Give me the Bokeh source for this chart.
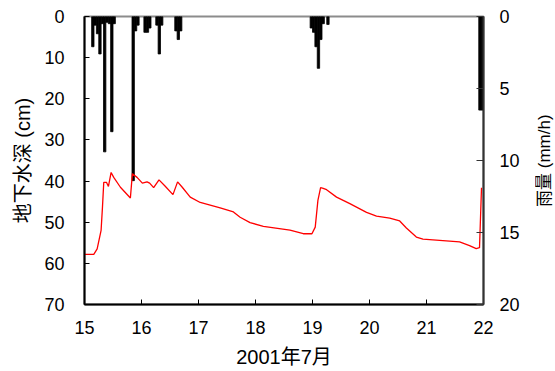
from bokeh.plotting import figure
from bokeh.models import Range1d, LinearAxis, FixedTicker, ColumnDataSource, Div
from bokeh.layouts import row
from bokeh.embed import file_html
from bokeh.resources import INLINE

# Groundwater depth (cm) vs day of July 2001
gw_day = [15.0, 15.163, 15.222, 15.291, 15.315, 15.338, 15.385, 15.420, 15.467, 15.513,
          15.630, 15.805, 15.840, 15.922, 16.015, 16.097, 16.143, 16.213, 16.307, 16.412,
          16.552, 16.633, 16.715, 16.855, 17.030, 17.380, 17.613, 17.730, 17.905, 18.138,
          18.605, 18.838, 18.990, 19.048, 19.095, 19.142, 19.188, 19.247, 19.422, 19.655,
          19.948, 20.123, 20.355, 20.530, 20.647, 20.822, 20.938, 21.580, 21.755, 21.872,
          21.930, 21.965]
gw_cm = [57.8, 57.8, 56.5, 52.0, 46.4, 40.3, 40.3, 41.3, 37.9, 39.1,
         41.5, 44.1, 38.2, 39.1, 40.5, 40.2, 40.5, 41.6, 39.7, 41.2,
         43.3, 40.2, 41.5, 43.9, 45.2, 46.5, 47.5, 48.8, 50.1, 51.0,
         51.9, 52.8, 52.8, 51.2, 44.7, 41.6, 41.8, 42.1, 43.9, 45.5,
         47.6, 48.5, 49.0, 49.7, 51.4, 53.6, 54.1, 54.8, 55.7, 56.4,
         56.2, 41.6]

# Hourly rainfall (mm/h), hour index counted from July 15 00:00
rain_hour = [3, 4, 5, 6, 7, 8, 9, 10, 11, 12, 20, 21, 22, 25, 26, 27, 30, 31, 32,
             38, 39, 40, 95, 96, 97, 98, 99, 100, 102, 166, 167]
rain_mm = [2.1, 0.6, 1.2, 2.6, 0.5, 9.4, 0.4, 0.5, 8.0, 0.5, 11.4, 1.0, 0.6, 1.1, 1.1, 0.8,
           0.6, 2.6, 0.6, 1.0, 1.6, 1.0, 0.8, 1.1, 2.1, 3.6, 1.6, 0.5, 0.55, 6.5, 6.5]

x_ticks = [15, 16, 17, 18, 19, 20, 21, 22]
gw_ticks = [0, 10, 20, 30, 40, 50, 60, 70]
rain_ticks = [0, 5, 10, 15, 20]

x_title = "2001年7月"
gw_title = "地下水深 (cm)"
rain_title = "雨量 (mm/h)"

FONT = "Liberation Sans, Noto Sans CJK SC"

p = figure(width=527, height=371, x_range=Range1d(15, 22), y_range=Range1d(70, 0),
           output_backend="svg", toolbar_location=None,
           min_border_left=84, min_border_right=44, min_border_top=16, min_border_bottom=67)
p.extra_y_ranges = {"rain": Range1d(20, 0)}
p.xgrid.visible = False
p.ygrid.visible = False
p.background_fill_color = "white"
p.border_fill_color = "white"
p.outline_line_color = "#8c8c8c"
p.outline_line_width = 2

rain_src = ColumnDataSource(dict(
    left=[15 + h / 24 for h in rain_hour],
    right=[15 + (h + 1) / 24 for h in rain_hour],
    top=[0] * len(rain_hour),
    bottom=rain_mm,
))
p.quad(left="left", right="right", top="top", bottom="bottom", source=rain_src,
       y_range_name="rain", fill_color="black", line_color="black", line_width=0.8)

p.line(gw_day, gw_cm, line_color="#ff0000", line_width=1.3)

def style(ax, color="black"):
    ax.axis_line_color = color
    ax.axis_line_width = 2
    ax.major_tick_in = 5
    ax.major_tick_out = 0
    ax.major_tick_line_color = color
    ax.minor_tick_line_color = None
    ax.major_label_text_font = FONT
    ax.major_label_text_font_size = "18px"
    ax.major_label_text_color = "black"
    ax.axis_label_text_font = FONT
    ax.axis_label_text_font_size = "20px"
    ax.axis_label_text_font_style = "normal"
    ax.axis_label_text_color = "black"

xa = p.xaxis[0]
style(xa)
xa.ticker = FixedTicker(ticks=x_ticks)
xa.axis_label = x_title
xa.major_label_standoff = 16
xa.axis_label_standoff = 9

ya = p.yaxis[0]
style(ya)
ya.ticker = FixedTicker(ticks=gw_ticks)
ya.axis_label = gw_title
ya.major_label_standoff = 20
ya.axis_label_standoff = 7

ra = LinearAxis(y_range_name="rain", ticker=FixedTicker(ticks=rain_ticks))
style(ra, "#333333")
ra.major_tick_in = 7
ra.major_label_standoff = 16
p.add_layout(ra, "right")

# right-axis title, reading bottom to top, centred on the plot frame
rain_label = Div(text=rain_title, width=26, height=312, styles={
    "writing-mode": "vertical-rl",
    "text-orientation": "sideways",
    "transform": "rotate(180deg)",
    "text-align": "center",
    "white-space": "nowrap",
    "overflow": "visible",
    "font-family": "'Liberation Sans', 'Noto Sans CJK SC', sans-serif",
    "font-size": "17px",
    "line-height": "26px",
    "color": "black",
})

layout = row(p, rain_label)
open("out.html", "w").write(file_html(layout, INLINE))
